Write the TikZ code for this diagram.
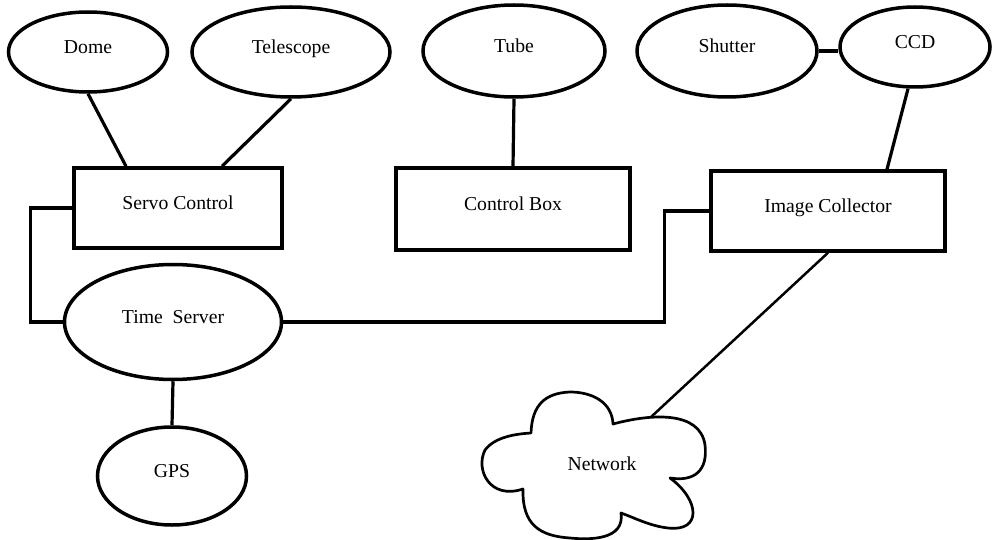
\documentclass[tikz,border=0pt]{standalone}
\usepackage{fontspec}
\setmainfont{Liberation Serif}
\usetikzlibrary{shapes.geometric}
\tikzset{
  {tag/.style} ={inner sep=0, text height=13pt, text depth=10pt},
  {part/.style} ={tag, ellipse, draw, line width=3.5pt},
  {unit/.style} ={tag, rectangle, draw, line width=3.5pt},
  {link/.style} ={draw, line width=3.2pt},
  {net link/.style} ={draw, line width=2.5pt},
  {cloud line/.style} ={draw, line width=2.7pt, line join=round},
}

\begin{document}
\begin{tikzpicture}[x=1pt, y=-1pt, font=\fontsize{19.7}{23}\selectfont]
    \useasboundingbox (0,0) rectangle (992,540);
    % top row
    \node[part, minimum width=159, minimum height=80] (dome) at (88,52) {Dome};
    \node[part, minimum width=198, minimum height=90] (telescope) at (291,52) {Telescope};
    \node[part, minimum width=182, minimum height=92] (tube) at (514,51) {Tube};
    \node[part, minimum width=180, minimum height=92] (shutter) at (727,51) {Shutter};
    \node[part, minimum width=150, minimum height=80] (ccd) at (915,47) {CCD};
    % boxes
    \node[unit, minimum width=208, minimum height=80] (servo) at (178,208) {Servo Control};
    \node[unit, minimum width=234, minimum height=82] (controlbox) at (513,209) {Control Box};
    \node[unit, minimum width=234, minimum height=80] (collector) at (828,211) {Image Collector};
    % bottom
    \node[part, minimum width=217, minimum height=115] (timeserver) at (173,322) {Time~~Server};
    \node[part, minimum width=149, minimum height=98] (gps) at (172,476) {GPS};
    \node[tag] (network) at (602,469) {Network};
    \draw[cloud line] (531,433) .. controls (532,405) and (545,393) .. (570,392)
        .. controls (592,392) and (612,402) .. (613,424)
        .. controls (650,414) and (700,410) .. (705,445)
        .. controls (708,470) and (695,482) .. (670,478)
        .. controls (700,500) and (702,532) .. (668,528)
        .. controls (650,526) and (635,518) .. (621,513)
        .. controls (625,540) and (590,540) .. (570,538)
        .. controls (540,536) and (522,525) .. (523,489)
        .. controls (490,500) and (475,470) .. (485,450)
        .. controls (495,437) and (515,434) .. cycle;
    \coordinate (netport) at (651,417);
    % connections
    \draw[link] (dome.south) -- ([xshift=-52pt]servo.north);
    \draw[link] (telescope.south) -- ([xshift=44pt]servo.north);
    \draw[link] (tube.south) -- (controlbox.north);
    \draw[link] (shutter.east) -- (shutter.east -| ccd.west);
    \draw[link] ([xshift=-7pt]ccd.south) -- ([xshift=59pt]collector.north);
    \draw[link] (servo.west) -- ++(-42,0) |- (timeserver.west);
    \draw[link] (timeserver.east) -| ([xshift=-45pt]collector.west) -- (collector.west);
    \draw[link] (timeserver.south) -- (gps.north);
    \draw[net link] (collector.south) -- (netport);
\end{tikzpicture}
\end{document}
